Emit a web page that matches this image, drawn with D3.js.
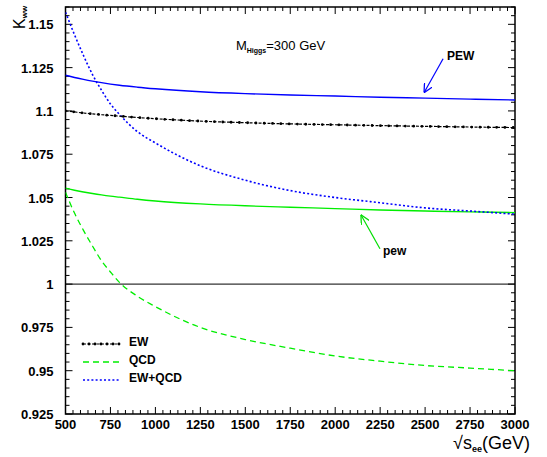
<!DOCTYPE html>
<html>
<head>
<meta charset="utf-8">
<script src="https://cdn.jsdelivr.net/npm/d3@7"></script>
<style>
  body { margin: 0; background: #fff; }
  svg { font-family: "Liberation Sans", Arial, sans-serif; }
</style>
</head>
<body>
<svg id="chart" width="547" height="457"></svg>
<script>
// sqrt(s) values (GeV) and K_WW factors
var energy = [500,550,600,650,700,750,800,900,1000,1250,1500,1750,2000,2250,2500,2750,3000];
var kPEW   = [1.1206,1.1193,1.1182,1.1172,1.1163,1.1155,1.1148,1.1137,1.1128,1.1111,1.1100,1.1092,1.1086,1.1079,1.1074,1.1068,1.1063];
var kEW    = [1.1000,1.0994,1.0988,1.0983,1.0978,1.0974,1.0970,1.0962,1.0955,1.0941,1.0932,1.0925,1.0920,1.0915,1.0911,1.0907,1.0904];
var kpew   = [1.0554,1.0542,1.0532,1.0523,1.0515,1.0508,1.0502,1.0490,1.0480,1.0463,1.0452,1.0444,1.0436,1.0428,1.0422,1.0417,1.0413];
var kQCD   = [1.053,1.041,1.031,1.022,1.0135,1.007,1.001,0.993,0.987,0.975,0.968,0.963,0.9585,0.9555,0.953,0.9515,0.950];
var kEWQCD = [1.157,1.144,1.132,1.121,1.112,1.104,1.098,1.088,1.0815,1.0683,1.0600,1.054,1.050,1.047,1.044,1.0422,1.0404];

var xTicks = [500,750,1000,1250,1500,1750,2000,2250,2500,2750,3000];
var yTicks = [0.925,0.95,0.975,1,1.025,1.05,1.075,1.1,1.125,1.15];
var yTickLabels = ["0.925","0.95","0.975","1","1.025","1.05","1.075","1.1","1.125","1.15"];

var margin = {left: 65.5, right: 32, top: 7, bottom: 43};
var W = 547, H = 457;

var svg = d3.select("#chart");

var xscale = d3.scaleLinear().domain([500, 3000]).range([margin.left, W - margin.right]);
var yscale = d3.scaleLinear().domain([0.925, 1.16]).range([H - margin.bottom, margin.top]);

var x0 = xscale.range()[0], x1 = xscale.range()[1];
var y0 = yscale.range()[0], y1 = yscale.range()[1];

svg.append("clipPath").attr("id", "clip")
    .append("rect")
    .attr("x", x0).attr("y", y1)
    .attr("width", x1 - x0).attr("height", y0 - y1);

// arrow heads
function addMarker(id, col) {
    svg.append("defs").append("marker")
        .attr("id", id)
        .attr("viewBox", "0 0 10 10")
        .attr("refX", 10).attr("refY", 5)
        .attr("markerWidth", 9).attr("markerHeight", 9)
        .attr("markerUnits", "userSpaceOnUse")
        .attr("orient", "auto")
        .append("path")
        .attr("d", "M0,0 L10,5 L0,10")
        .attr("fill", "none")
        .attr("stroke", col)
        .attr("stroke-width", 1.4);
}
addMarker("arrBlue", "#0000ff");
addMarker("arrGreen", "#00dd00");

// ticks (inward, on all 4 sides)
var xMinor = d3.range(500, 3000.1, 250 / 6);
var yMinor = d3.range(0.925, 1.1601, 0.005);

var ticks = svg.append("g").attr("stroke", "#000").attr("stroke-width", 1);
xMinor.forEach(function(v) {
    var major = xTicks.some(function(t) { return Math.abs(t - v) < 1; });
    var len = major ? 7 : 4;
    ticks.append("line").attr("x1", xscale(v)).attr("x2", xscale(v)).attr("y1", y0).attr("y2", y0 - len);
    ticks.append("line").attr("x1", xscale(v)).attr("x2", xscale(v)).attr("y1", y1).attr("y2", y1 + len);
});
yMinor.forEach(function(v) {
    var major = yTicks.some(function(t) { return Math.abs(t - v) < 1e-4; });
    var len = major ? 7 : 4;
    ticks.append("line").attr("x1", x0).attr("x2", x0 + len).attr("y1", yscale(v)).attr("y2", yscale(v));
    ticks.append("line").attr("x1", x1).attr("x2", x1 - len).attr("y1", yscale(v)).attr("y2", yscale(v));
});

// frame
svg.append("rect")
    .attr("x", x0).attr("y", y1)
    .attr("width", x1 - x0).attr("height", y0 - y1)
    .attr("fill", "none").attr("stroke", "#000").attr("stroke-width", 1.5);

// tick labels
svg.append("g").selectAll("text")
    .data(xTicks).enter()
    .append("text")
    .attr("x", function(d) { return xscale(d); })
    .attr("y", y0 + 15)
    .attr("text-anchor", "middle")
    .attr("font-size", 13).attr("font-weight", "bold")
    .text(function(d) { return d; });

svg.append("g").selectAll("text")
    .data(yTicks).enter()
    .append("text")
    .attr("x", x0 - 12)
    .attr("y", function(d) { return yscale(d) + 5; })
    .attr("text-anchor", "end")
    .attr("font-size", 13).attr("font-weight", "bold")
    .text(function(d, i) { return yTickLabels[i]; });

// axis titles
var xt = svg.append("text")
    .attr("x", 530).attr("y", 449)
    .attr("text-anchor", "end")
    .attr("font-size", 18);
xt.append("tspan").text("\u221As");
xt.append("tspan").attr("font-size", 9).attr("font-weight", "bold").attr("dy", 3).text("ee");
xt.append("tspan").attr("dy", -3).text("(GeV)");

var yt = svg.append("text")
    .attr("transform", "translate(25,29) rotate(-90)")
    .attr("font-size", 16);
yt.append("tspan").text("K");
yt.append("tspan").attr("font-size", 8).attr("font-weight", "bold").attr("dy", 2).text("ww");

// curves
var plot = svg.append("g").attr("clip-path", "url(#clip)");

// line at K = 1
plot.append("line")
    .attr("x1", xscale(500)).attr("x2", xscale(3000))
    .attr("y1", yscale(1)).attr("y2", yscale(1))
    .attr("stroke", "#000").attr("stroke-width", 1);

var line = d3.line()
    .x(function(d) { return xscale(d[0]); })
    .y(function(d) { return yscale(d[1]); })
    .curve(d3.curveMonotoneX);

function pairs(vals) {
    return energy.map(function(e, i) { return [e, vals[i]]; });
}

var series = [
    {name: "PEW",    vals: kPEW,   color: "#0000ff", width: 1.4, dash: null},
    {name: "pew",    vals: kpew,   color: "#00ee00", width: 1.4, dash: null},
    {name: "QCD",    vals: kQCD,   color: "#00ee00", width: 1.3, dash: "6,4"},
    {name: "EW+QCD", vals: kEWQCD, color: "#0000ff", width: 1.6, dash: "2,2.2"},
    {name: "EW",     vals: kEW,    color: "#000",    width: 1.2, dash: "3,1.5"}
];

// dots along a path, used for the EW style
function dotPath(sel, spacing) {
    var node = sel.node();
    var total = node.getTotalLength();
    var g = d3.select(node.parentNode);
    for (var l = 0; l <= total; l += spacing) {
        var p = node.getPointAtLength(l);
        g.append("circle").attr("cx", p.x).attr("cy", p.y).attr("r", 1.4).attr("fill", "#000");
    }
}

series.forEach(function(s) {
    var p = plot.append("path")
        .datum(pairs(s.vals))
        .attr("d", line)
        .attr("fill", "none")
        .attr("stroke", s.color)
        .attr("stroke-width", s.width)
        .attr("stroke-dasharray", s.dash);
    if (s.name == "EW") {
        dotPath(p, 8.3);
    }
});

// annotations (data units)
svg.append("text")
    .attr("x", xscale(1448)).attr("y", yscale(1.1352))
    .attr("font-size", 13)
    .call(function(t) {
        t.append("tspan").text("M");
        t.append("tspan").attr("font-size", 7).attr("font-weight", "bold").attr("dy", 3).text("Higgs");
        t.append("tspan").attr("dy", -3).text("=300 GeV");
    });

svg.append("line")
    .attr("x1", xscale(2600)).attr("y1", yscale(1.1301))
    .attr("x2", xscale(2494)).attr("y2", yscale(1.1105))
    .attr("stroke", "#0000ff").attr("stroke-width", 1.2)
    .attr("marker-end", "url(#arrBlue)");
svg.append("text")
    .attr("x", xscale(2622)).attr("y", yscale(1.1294))
    .attr("font-size", 12).attr("font-weight", "bold")
    .text("PEW");

svg.append("line")
    .attr("x1", xscale(2249)).attr("y1", yscale(1.0204))
    .attr("x2", xscale(2143)).attr("y2", yscale(1.0400))
    .attr("stroke", "#00dd00").attr("stroke-width", 1.2)
    .attr("marker-end", "url(#arrGreen)");
svg.append("text")
    .attr("x", xscale(2266)).attr("y", yscale(1.0169))
    .attr("font-size", 12).attr("font-weight", "bold")
    .text("pew");

// legend
var legendItems = [
    {name: "EW",     color: "#000",    dash: "3,1.5", width: 1.2},
    {name: "QCD",    color: "#00ee00", dash: "6,4",   width: 1.3},
    {name: "EW+QCD", color: "#0000ff", dash: "2,2.2", width: 1.6}
];
var legend = svg.append("g");
legendItems.forEach(function(d, i) {
    var ly = 344 + i * 18;
    var g = legend.append("g");
    var l = g.append("path")
        .attr("d", "M83," + ly + "L120," + ly)
        .attr("stroke", d.color)
        .attr("stroke-width", d.width)
        .attr("stroke-dasharray", d.dash)
        .attr("fill", "none");
    if (d.name == "EW") {
        dotPath(l, 6);
    }
    g.append("text")
        .attr("x", 129).attr("y", ly + 2)
        .attr("font-size", 12).attr("font-weight", "bold")
        .text(d.name);
});
</script>
</body>
</html>
